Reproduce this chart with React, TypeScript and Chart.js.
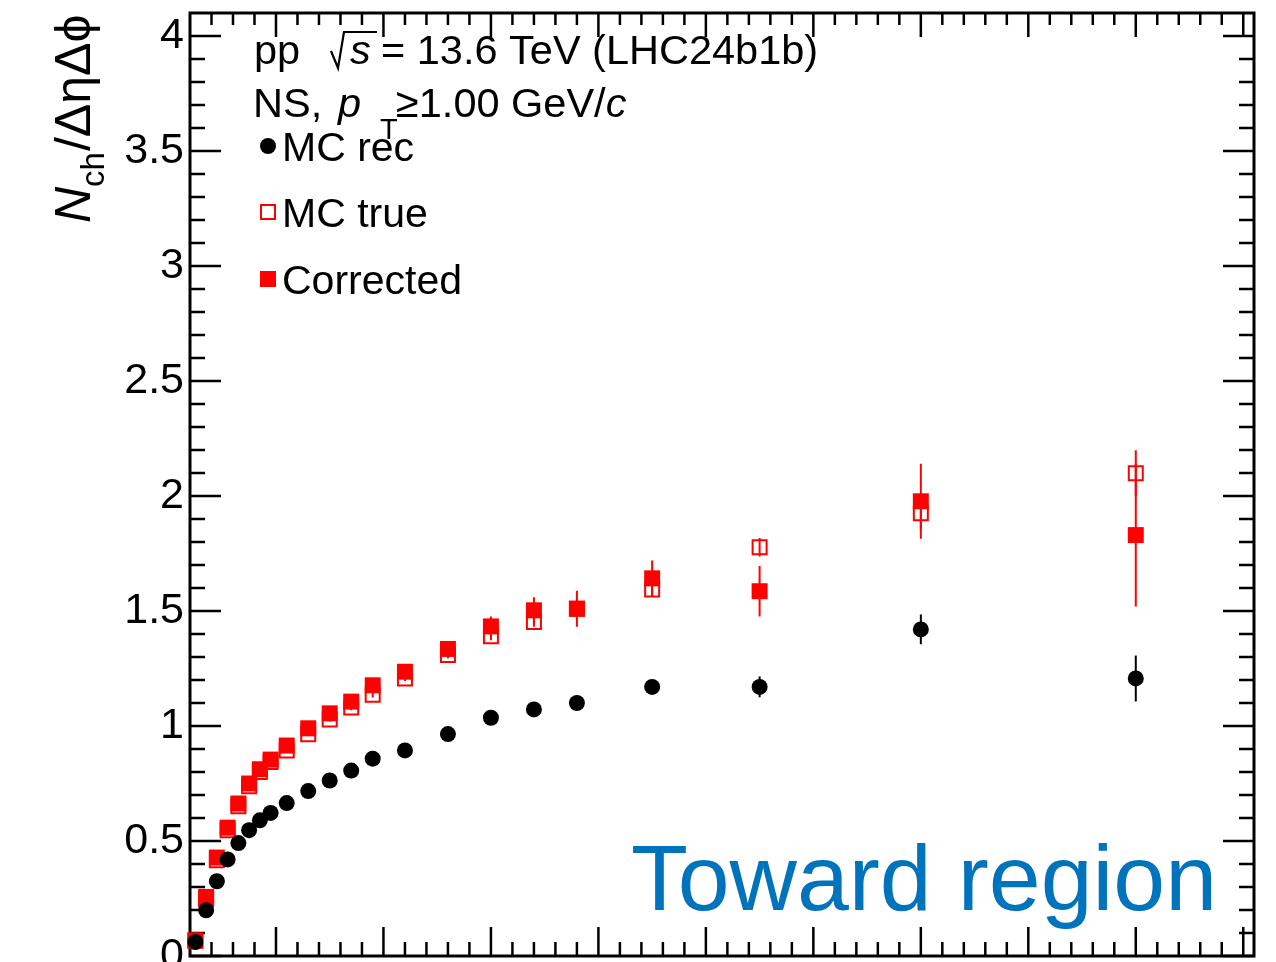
import React, { useEffect, useRef } from "react";
import { Chart, registerables } from "chart.js";

Chart.register(...registerables);

// Multiplicity bin centres (N_ch of the trigger event)
const binCenters = [2.5, 3.5, 4.5, 5.5, 6.5, 7.5, 8.5, 9.5, 11, 13, 15, 17, 19, 22, 26, 30, 34, 38, 45, 55, 70, 90];

// MC reconstructed
const mcRec = [0.061, 0.199, 0.325, 0.42, 0.491, 0.547, 0.59, 0.622, 0.665, 0.717, 0.763, 0.806, 0.858, 0.894, 0.965, 1.036, 1.072, 1.1, 1.17, 1.17, 1.42, 1.207];
const mcRecErr = [0.002, 0.003, 0.004, 0.004, 0.005, 0.005, 0.006, 0.006, 0.005, 0.006, 0.007, 0.008, 0.009, 0.008, 0.01, 0.012, 0.015, 0.018, 0.02, 0.045, 0.065, 0.1];

// MC generator level
const mcTrue = [0.066, 0.247, 0.416, 0.547, 0.651, 0.738, 0.8, 0.843, 0.894, 0.964, 1.028, 1.08, 1.136, 1.207, 1.309, 1.39, 1.452, 1.51, 1.593, 1.777, 1.925, 2.099];
const mcTrueErr = [0.002, 0.004, 0.005, 0.006, 0.007, 0.008, 0.008, 0.009, 0.008, 0.009, 0.01, 0.011, 0.012, 0.011, 0.014, 0.017, 0.02, 0.024, 0.03, 0.04, 0.07, 0.1];

// Corrected
const corrected = [0.068, 0.257, 0.428, 0.558, 0.663, 0.75, 0.812, 0.854, 0.915, 0.99, 1.055, 1.106, 1.177, 1.236, 1.335, 1.433, 1.503, 1.51, 1.642, 1.586, 1.977, 1.83];
const correctedErr = [0.004, 0.008, 0.01, 0.012, 0.013, 0.014, 0.015, 0.016, 0.014, 0.016, 0.018, 0.02, 0.022, 0.02, 0.03, 0.043, 0.057, 0.078, 0.078, 0.11, 0.163, 0.31];

// Axis ranges and ticks
const xMin = 2;
const xMax = 101;
const yMin = 0;
const yMax = 4.1;
const xMajorTicks = [10, 20, 30, 40, 50, 60, 70, 80, 90, 100];
const xMinorStep = 2;
const yMajorTicks = [0, 0.5, 1, 1.5, 2, 2.5, 3, 3.5, 4];
const yMinorStep = 0.1;

const FONT = '"Liberation Sans", Arial, Helvetica, sans-serif';
const RED = "#ff0000";
const BLUE = "#0073bd";

const toPoints = (ys: number[]) => binCenters.map((x, i) => ({ x, y: ys[i] }));

const framePlugin = {
  id: "rootFrame",
  beforeDatasetsDraw(chart: any) {
    const { ctx, chartArea, scales } = chart;
    const { left, right, top, bottom } = chartArea;
    const xs = scales.x;
    const ys = scales.y;
    ctx.save();
    ctx.strokeStyle = "#000";
    ctx.lineCap = "butt";

    // x ticks (bottom and top, pointing inwards)
    ctx.lineWidth = 2.5;
    const xMinor: number[] = [];
    for (let v = xMin; v <= xMax + 1e-9; v += xMinorStep) xMinor.push(v);
    ctx.beginPath();
    xMinor.forEach((v) => {
      if (xMajorTicks.includes(v)) return;
      const px = xs.getPixelForValue(v);
      if (px <= left + 1 || px >= right - 1) return;
      ctx.moveTo(px, bottom);
      ctx.lineTo(px, bottom - 14);
      ctx.moveTo(px, top);
      ctx.lineTo(px, top + 12);
    });
    xMajorTicks.forEach((v) => {
      const px = xs.getPixelForValue(v);
      ctx.moveTo(px, bottom);
      ctx.lineTo(px, bottom - 29);
      ctx.moveTo(px, top);
      ctx.lineTo(px, top + 24);
    });

    // y ticks (left and right)
    const yMinor: number[] = [];
    for (let k = 0; k * yMinorStep <= yMax + 1e-9; k++) yMinor.push(+(k * yMinorStep).toFixed(2));
    yMinor.forEach((v) => {
      if (yMajorTicks.some((m) => Math.abs(m - v) < 1e-6)) return;
      const py = ys.getPixelForValue(v);
      if (py <= top + 1) return;
      ctx.moveTo(left, py);
      ctx.lineTo(left + 15, py);
      ctx.moveTo(right, py);
      ctx.lineTo(right - 15, py);
    });
    yMajorTicks.forEach((v) => {
      const py = ys.getPixelForValue(v);
      ctx.moveTo(left, py);
      ctx.lineTo(left + 31, py);
      ctx.moveTo(right, py);
      ctx.lineTo(right - 31, py);
    });
    ctx.stroke();

    // frame
    ctx.lineWidth = 3;
    ctx.strokeRect(left, top, right - left, bottom - top);

    // vertical error bars
    const bars: [number[], number[], string][] = [
      [mcTrue, mcTrueErr, RED],
      [corrected, correctedErr, RED],
      [mcRec, mcRecErr, "#000"],
    ];
    ctx.lineWidth = 2;
    bars.forEach(([vals, errs, color]) => {
      ctx.strokeStyle = color;
      ctx.beginPath();
      binCenters.forEach((x, i) => {
        const px = xs.getPixelForValue(x);
        ctx.moveTo(px, ys.getPixelForValue(vals[i] - errs[i]));
        ctx.lineTo(px, ys.getPixelForValue(vals[i] + errs[i]));
      });
      ctx.stroke();
    });
    ctx.restore();
  },
};

function seg(ctx: CanvasRenderingContext2D, text: string, x: number, y: number, font: string) {
  ctx.font = font;
  ctx.fillText(text, x, y);
  return x + ctx.measureText(text).width;
}

const textPlugin = {
  id: "rootText",
  afterDraw(chart: any) {
    const ctx: CanvasRenderingContext2D = chart.ctx;
    ctx.save();
    ctx.fillStyle = "#000";
    ctx.textBaseline = "alphabetic";
    ctx.textAlign = "left";

    const reg = `41.5px ${FONT}`;
    const ita = `italic 41.5px ${FONT}`;

    // first header line: pp  sqrt(s) = 13.6 TeV (LHC24b1b)
    seg(ctx, "pp", 254, 64, reg);
    ctx.strokeStyle = "#000";
    ctx.lineWidth = 2.2;
    ctx.beginPath();
    ctx.moveTo(331, 51);
    ctx.lineTo(338, 68);
    ctx.lineTo(344, 32);
    ctx.lineTo(377, 32);
    ctx.stroke();
    seg(ctx, "s", 350, 64, ita);
    seg(ctx, "= 13.6 TeV (LHC24b1b)", 381, 64, reg);

    // second header line: NS,  p_T >= 1.00 GeV/c
    seg(ctx, "NS,", 253, 117, reg);
    seg(ctx, "p", 338, 117, ita);
    seg(ctx, "T", 380, 139, `29px ${FONT}`);
    const xc = seg(ctx, "\u22651.00 GeV/", 396, 117, reg);
    seg(ctx, "c", xc, 117, ita);

    // legend
    const legFont = `41px ${FONT}`;
    const legendRows = [
      { label: "MC rec", y: 146, kind: "circle" },
      { label: "MC true", y: 212, kind: "open" },
      { label: "Corrected", y: 279, kind: "filled" },
    ];
    legendRows.forEach((r) => {
      const mx = 268;
      if (r.kind === "circle") {
        ctx.fillStyle = "#000";
        ctx.beginPath();
        ctx.arc(mx, r.y, 8, 0, Math.PI * 2);
        ctx.fill();
      } else if (r.kind === "open") {
        ctx.strokeStyle = RED;
        ctx.lineWidth = 2;
        ctx.strokeRect(mx - 7, r.y - 7, 14, 14);
      } else {
        ctx.fillStyle = RED;
        ctx.fillRect(mx - 8, r.y - 8, 16, 16);
      }
      ctx.fillStyle = "#000";
      seg(ctx, r.label, 282, r.y + 15, legFont);
    });

    // y-axis title, rotated
    ctx.save();
    ctx.translate(90, 223);
    ctx.rotate(-Math.PI / 2);
    let t = seg(ctx, "N", 0, 0, `italic 50px ${FONT}`);
    t = seg(ctx, "ch", t, 14, `33px ${FONT}`);
    seg(ctx, "/\u0394\u03b7\u0394\u03d5", t + 1, 0, `50px ${FONT}`);
    ctx.restore();

    // region label
    ctx.fillStyle = BLUE;
    seg(ctx, "Toward region", 631, 910, `93.3px ${FONT}`);
    ctx.restore();
  },
};

export default function App() {
  const ref = useRef<HTMLCanvasElement | null>(null);

  useEffect(() => {
    const canvas = ref.current;
    if (!canvas) return;
    const chart = new Chart(canvas, {
      type: "scatter",
      data: {
        datasets: [
          {
            label: "MC rec",
            data: toPoints(mcRec),
            pointStyle: "circle",
            pointRadius: 8,
            pointBackgroundColor: "#000",
            pointBorderWidth: 0,
            borderWidth: 0,
            clip: false,
          },
          {
            label: "Corrected",
            data: toPoints(corrected),
            pointStyle: "rect",
            pointRadius: 11.3,
            pointBackgroundColor: RED,
            pointBorderWidth: 0,
            borderWidth: 0,
            clip: false,
          },
          {
            label: "MC true",
            data: toPoints(mcTrue),
            pointStyle: "rect",
            pointRadius: 9.9,
            pointBackgroundColor: "rgba(0,0,0,0)",
            pointBorderColor: RED,
            pointBorderWidth: 2,
            clip: false,
          },
        ],
      },
      options: {
        animation: false,
        responsive: false,
        devicePixelRatio: 1,
        events: [],
        layout: { autoPadding: false, padding: { left: 0, top: 13, right: 22, bottom: 0 } },
        plugins: {
          legend: { display: false },
          title: { display: false },
          tooltip: { enabled: false },
        },
        scales: {
          x: {
            type: "linear",
            min: xMin,
            max: xMax,
            grid: { display: false, drawTicks: false },
            border: { display: false },
            ticks: { display: false },
            afterFit: (scale: any) => {
              scale.height = 6;
              scale.paddingLeft = 0;
              scale.paddingRight = 0;
            },
          },
          y: {
            type: "linear",
            min: yMin,
            max: yMax,
            grid: { display: false, drawTicks: false },
            border: { display: false },
            afterBuildTicks: (scale: any) => {
              scale.ticks = yMajorTicks.map((v) => ({ value: v }));
            },
            afterFit: (scale: any) => {
              scale.width = 190;
              scale.paddingTop = 0;
              scale.paddingBottom = 0;
            },
            ticks: {
              color: "#000",
              padding: 6,
              font: { family: FONT, size: 43 },
              callback: (v: any) => String(v),
            },
          },
        },
      },
      plugins: [framePlugin, textPlugin],
    });
    return () => chart.destroy();
  }, []);

  return (
    <div
      style={{
        position: "fixed",
        left: 0,
        top: 0,
        width: 1276,
        height: 962,
        overflow: "hidden",
        background: "#fff",
      }}
    >
      <canvas ref={ref} width={1276} height={962} style={{ display: "block", width: 1276, height: 962 }} />
    </div>
  );
}
